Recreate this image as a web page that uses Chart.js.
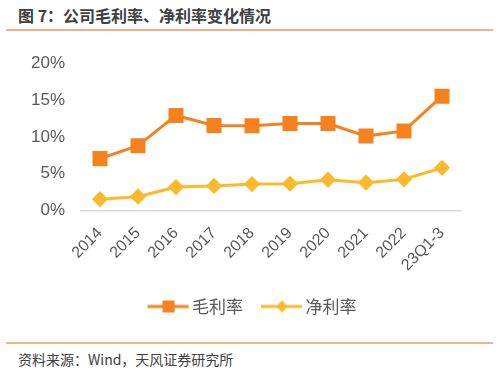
<!DOCTYPE html>
<html>
<head>
<meta charset="utf-8">
<script src="https://cdn.jsdelivr.net/npm/chart.js@4"></script>
<style>
  body { margin: 0; width: 499px; height: 371px; background: #fff; position: relative; overflow: hidden;
    font-family: "Liberation Sans", "Noto Sans CJK SC", sans-serif; }
  #title { position: absolute; left: 18px; top: 5px; font: bold 16px "Noto Sans CJK SC", sans-serif; color: #404040; line-height: 20px; }
  .rule { position: absolute; left: 6px; width: 487px; height: 1.5px; background: #f4b183; }
  #source { position: absolute; left: 18px; top: 349px; font: 14px "Noto Sans CJK SC", sans-serif; color: #404040; line-height: 20px; }
  #wrap { position: absolute; left: 0; top: 36px; width: 499px; height: 300px; }
</style>
</head>
<body>
<div id="title">图 7：公司毛利率、净利率变化情况</div>
<div class="rule" style="top:29px"></div>
<div id="wrap"><canvas id="chart"></canvas></div>
<div class="rule" style="top:342px"></div>
<div id="source">资料来源：Wind，天风证券研究所</div>
<script>
const years = ["2014", "2015", "2016", "2017", "2018", "2019", "2020", "2021", "2022", "23Q1-3"];
const grossMargin = [7.05, 8.8, 12.9, 11.55, 11.5, 11.8, 11.8, 10.1, 10.8, 15.5];
const netMargin = [1.55, 1.9, 3.2, 3.35, 3.6, 3.65, 4.2, 3.8, 4.25, 5.8];
const seriesNames = ["毛利率", "净利率"];

const orange = "#f5821f";
const yellow = "#fbb92b";

// legend icon: short line with the marker in the middle (drawn a bit right so it sits close to the text)
function legendIcon(color, shape) {
  const c = document.createElement("canvas");
  c.width = 48; c.height = 16;
  const ctx = c.getContext("2d");
  ctx.strokeStyle = color; ctx.lineWidth = 3;
  ctx.beginPath(); ctx.moveTo(6, 8); ctx.lineTo(47, 8); ctx.stroke();
  ctx.fillStyle = color;
  if (shape === "rect") {
    ctx.fillRect(21, 2, 12, 12);
  } else {
    ctx.beginPath();
    ctx.moveTo(27, 2); ctx.lineTo(33, 8); ctx.lineTo(27, 14); ctx.lineTo(21, 8);
    ctx.closePath(); ctx.fill();
  }
  return c;
}

new Chart(document.getElementById("chart"), {
  type: "line",
  data: {
    labels: years,
    datasets: [
      {
        label: seriesNames[0],
        data: grossMargin,
        borderColor: orange,
        backgroundColor: orange,
        borderWidth: 3,
        pointStyle: "rect",
        pointRadius: 8.5,
        pointHoverRadius: 8.5,
      },
      {
        label: seriesNames[1],
        data: netMargin,
        borderColor: yellow,
        backgroundColor: yellow,
        borderWidth: 3,
        pointStyle: "rectRot",
        pointRadius: 6,
        pointHoverRadius: 6,
      },
    ],
  },
  options: {
    animation: false,
    responsive: true,
    maintainAspectRatio: false,
    layout: { padding: { left: 18, right: 13, top: 27, bottom: 11 } },
    plugins: {
      tooltip: { enabled: false },
      legend: {
        position: "bottom",
        labels: {
          usePointStyle: true,
          pointStyleWidth: 36,
          boxHeight: 16,
          padding: 18,
          color: "#595959",
          font: { family: "'Noto Sans CJK SC'", size: 17 },
          generateLabels: (chart) =>
            chart.data.datasets.map((ds, i) => ({
              text: ds.label,
              pointStyle: legendIcon(ds.borderColor, i === 0 ? "rect" : "rot"),
              fontColor: "#595959",
              lineWidth: 0,
              datasetIndex: i,
            })),
        },
      },
    },
    scales: {
      x: {
        offset: true,
        grid: { display: false },
        border: { display: true, color: "#d9d9d9", width: 1.5 },
        ticks: {
          minRotation: 45,
          maxRotation: 45,
          color: "#595959",
          font: { family: "'Liberation Sans'", size: 16 },
          padding: 5,
        },
      },
      y: {
        min: 0,
        max: 20,
        grid: { display: false },
        border: { display: false },
        afterFit: (scale) => { scale.width = 63; },
        ticks: {
          stepSize: 5,
          padding: 8,
          color: "#595959",
          font: { family: "'Liberation Sans'", size: 17 },
          callback: (v) => v + "%",
        },
      },
      // empty right-hand spacer so the plot ends where the original does
      spacer: {
        type: "linear",
        axis: "y",
        position: "right",
        grid: { display: false },
        border: { display: false },
        ticks: { display: false },
        afterFit: (scale) => { scale.width = 25; },
      },
    },
  },
});
</script>
</body>
</html>
